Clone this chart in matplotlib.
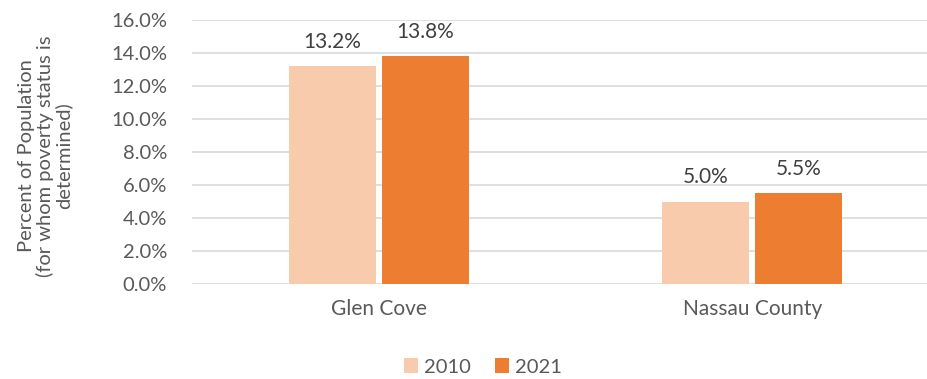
import numpy as np
import matplotlib.pyplot as plt

plt.rcParams['font.family'] = ['Lato', 'DejaVu Sans']

categories = ['Glen Cove', 'Nassau County']
years = ['2010', '2021']
vals_2010 = [13.2, 5.0]
vals_2021 = [13.8, 5.5]
colors = ['#F8CBAD', '#ED7D31']
txt = '#595959'

fig = plt.figure(figsize=(9.28, 3.79), dpi=100)
ax = fig.add_axes([192/928, 1 - 284/379, 1 - 192/928, (284 - 20)/379])

x = np.arange(len(categories))
w = 0.233
off = 0.125
for vals, c, lab, d in [(vals_2010, colors[0], years[0], -off), (vals_2021, colors[1], years[1], off)]:
    bars = ax.bar(x + d, vals, width=w, color=c, label=lab, zorder=3)
    for b, v in zip(bars, vals):
        ax.text(b.get_x() + b.get_width()/2, v + 0.85, f'{v:.1f}%', ha='center', va='bottom',
                fontsize=15, color='#404040')

ax.set_ylim(0, 16)
ax.set_xlim(-0.5, (928 - 378)/374)
ax.set_yticks(np.arange(0, 17, 2))
ax.set_yticklabels([f'{t:.1f}%' for t in np.arange(0, 17, 2)], fontsize=14.5, color=txt)
ax.set_xticks(x)
ax.set_xticklabels(categories, fontsize=15, color=txt)
ax.tick_params(axis='both', length=0)
ax.tick_params(axis='y', pad=18)
ax.tick_params(axis='x', pad=11)
ax.grid(axis='y', color='#D9D9D9', linewidth=1.2, zorder=0)
for s in ax.spines.values():
    s.set_visible(False)

fig.text(45/928, 1 - 156/379, 'Percent of Population\n(for whom poverty status is\ndetermined)',
         rotation=90, ha='center', va='center', fontsize=14.5, color=txt, linespacing=1.05)

fig.legend(loc='center', bbox_to_anchor=(483/928, 1 - 367/379), ncol=2, frameon=False,
           fontsize=14.5, handlelength=0.7, handleheight=0.7, handletextpad=0.3,
           columnspacing=1.2, labelcolor=txt)

fig.savefig('out.png', dpi=100)
